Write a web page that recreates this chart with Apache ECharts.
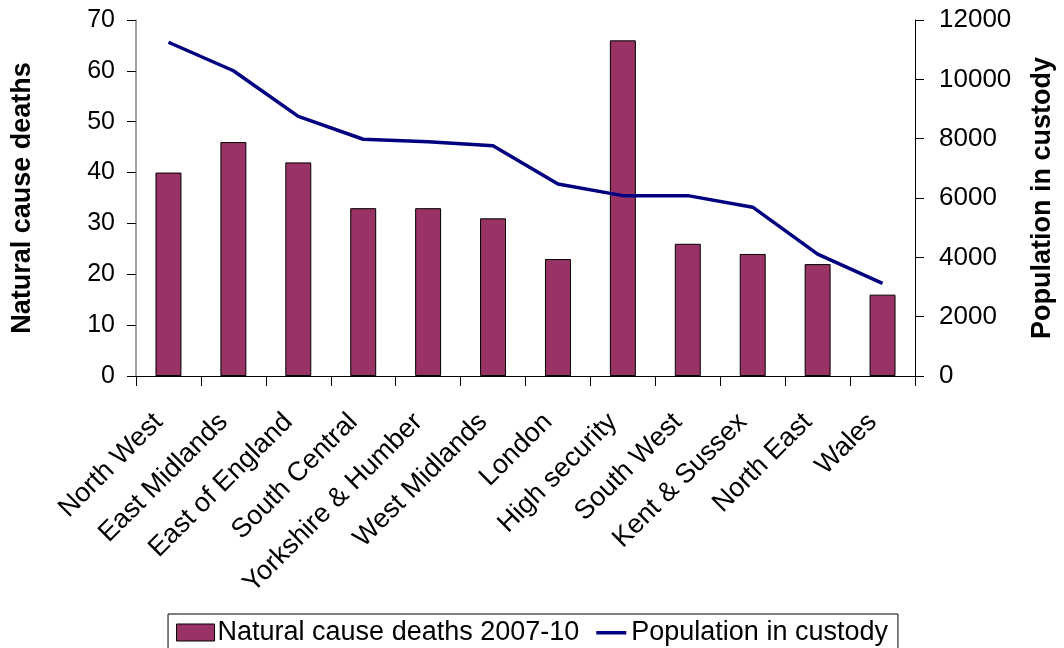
<!DOCTYPE html>
<html>
<head>
<meta charset="utf-8">
<script src="https://cdn.jsdelivr.net/npm/echarts@6/dist/echarts.min.js"></script>
<style>
  html, body { margin: 0; padding: 0; background: #fff; }
  #chart { width: 1064px; height: 648px; }
</style>
</head>
<body>
<div id="chart"></div>
<script>
// Regions (x axis)
const regions = ['North West', 'East Midlands', 'East of England', 'South Central',
  'Yorkshire & Humber', 'West Midlands', 'London', 'High security', 'South West',
  'Kent & Sussex', 'North East', 'Wales'];

// Natural cause deaths 2007-10 (left axis)
const deaths = [40, 46, 42, 33, 33, 31, 23, 66, 26, 24, 22, 16];

// Population in custody (right axis)
const population = [11250, 10290, 8750, 7980, 7900, 7760, 6470, 6080, 6080, 5690, 4110, 3120];

const font = 'Liberation Sans, Arial, sans-serif';

const chart = echarts.init(document.getElementById('chart'));

chart.setOption({
  animation: false,
  textStyle: { fontFamily: font, color: '#000' },
  grid: { left: 136, right: 140, top: 20, bottom: 272 },
  legend: {
    bottom: -8,
    left: 'center',
    itemGap: 11,
    itemWidth: 38,
    itemHeight: 17,
    padding: [5, 10, 10, 8],
    borderColor: '#000',
    borderWidth: 1,
    textStyle: { fontSize: 27, color: '#000', fontFamily: font, padding: [0, 0, 0, -2] },
    data: [
      { name: 'Natural cause deaths 2007-10', icon: 'rect',
        itemStyle: { color: '#993366', borderColor: '#000', borderWidth: 1 } },
      { name: 'Population in custody',
        icon: 'path://M0,0L0,0M38,17L38,17M6,7L36,7L36,10.5L6,10.5Z',
        itemStyle: { color: '#000080', borderWidth: 0 } }
    ]
  },
  xAxis: {
    type: 'category',
    data: regions,
    boundaryGap: true,
    axisLine: { lineStyle: { color: '#000', width: 1 } },
    axisTick: { show: true, length: 10, interval: 0, lineStyle: { color: '#000' } },
    axisLabel: { rotate: 45, interval: 0, fontSize: 27, color: '#000', margin: 32, padding: [0, 14, 0, 0] }
  },
  yAxis: [
    {
      type: 'value',
      min: 0, max: 70, interval: 10,
      name: 'Natural cause deaths',
      nameLocation: 'middle',
      nameGap: 100,
      nameTextStyle: { fontSize: 27, fontWeight: 'bold', color: '#000' },
      axisLine: { show: true, lineStyle: { color: '#808080', width: 1.5 } },
      axisTick: { show: true, length: 9, lineStyle: { color: '#000' } },
      axisLabel: { fontSize: 25, color: '#000', margin: 21 },
      splitLine: { show: false }
    },
    {
      type: 'value',
      min: 0, max: 12000, interval: 2000,
      name: 'Population in custody',
      nameLocation: 'middle',
      nameGap: 114,
      nameRotate: 90,
      nameTextStyle: { fontSize: 27, fontWeight: 'bold', color: '#000' },
      axisLine: { show: true, lineStyle: { color: '#000', width: 1 } },
      axisTick: { show: true, length: 9, lineStyle: { color: '#000' } },
      axisLabel: { fontSize: 26, color: '#000', margin: 24, formatter: v => String(v) },
      splitLine: { show: false }
    }
  ],
  series: [
    {
      name: 'Natural cause deaths 2007-10',
      type: 'bar',
      yAxisIndex: 0,
      barWidth: '40%',
      data: deaths,
      itemStyle: { color: '#993366', borderColor: '#000', borderWidth: 1 }
    },
    {
      name: 'Population in custody',
      type: 'line',
      yAxisIndex: 1,
      data: population,
      symbol: 'none',
      lineStyle: { color: '#000080', width: 3.5 },
      itemStyle: { color: '#000080' }
    }
  ]
});
</script>
</body>
</html>
